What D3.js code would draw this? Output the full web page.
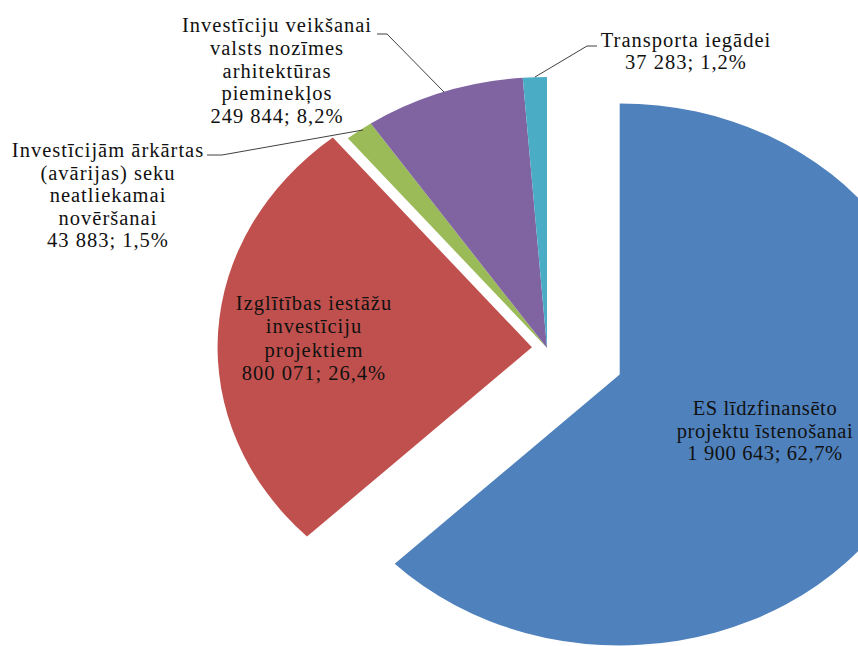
<!DOCTYPE html>
<html>
<head>
<meta charset="utf-8">
<script src="https://d3js.org/d3.v7.min.js"></script>
<style>
  body { margin: 0; background: #fff; }
  svg { display: block; }
</style>
</head>
<body>
<div id="chart"></div>
<script>
    // slice data, clockwise from 12 o'clock
    var categories = [
        "ES līdzfinansēto projektu īstenošanai",
        "Izglītības iestāžu investīciju projektiem",
        "Investīcijām ārkārtas (avārijas) seku neatliekamai novēršanai",
        "Investīciju veikšanai valsts nozīmes arhitektūras pieminekļos",
        "Transporta iegādei"
    ]
    var values = [1900643, 800071, 43883, 249844, 37283]
    var valueLabels = ["1 900 643", "800 071", "43 883", "249 844", "37 283"]
    var percentLabels = ["62,7%", "26,4%", "1,5%", "8,2%", "1,2%"]
    // how the category text is wrapped in the chart
    var labelLines = [
        ["ES līdzfinansēto", "projektu īstenošanai"],
        ["Izglītības iestāžu", "investīciju", "projektiem"],
        ["Investīcijām ārkārtas", "(avārijas) seku", "neatliekamai", "novēršanai"],
        ["Investīciju veikšanai", "valsts nozīmes", "arhitektūras", "pieminekļos"],
        ["Transporta iegādei"]
    ]
    var colors = ["#4F81BD", "#C0504D", "#9BBB59", "#8064A2", "#4BACC6"]

    var W = 858, H = 646
    var cx = 547, cy = 348, R = 271, stretchX = 1.16
    var explode = [68, 13, 0, 0, 0]

    // label anchor (centre x, first baseline y), spacing, and leader lines
    var labelPos = [
        {x: 765, y: 415, ls: 0.6, lh: 22.5},
        {x: 314, y: 310, ls: 1, lh: 23.3},
        {x: 108, y: 157, ls: 1, lh: 22.6},
        {x: 277, y: 32, ls: 1, lh: 22.8},
        {x: 686, y: 47, ls: 1, lh: 21.5}
    ]
    var leaders = [
        null, null,
        [[207, 155], [222, 155], [363, 130]],
        [[377, 34], [387, 34], [444, 92]],
        [[597, 46], [587, 46], [535, 77]]
    ]

    var svg = d3.select("#chart")
        .append("svg")
        .attr("width", W)
        .attr("height", H)

    var pie = d3.pie().sort(null).value(function(d){ return d })
    var arcs = pie(values)
    var arc = d3.arc().innerRadius(0).outerRadius(R)

    var g = svg.append("g")
        .attr("transform", "translate(" + cx + "," + cy + ") scale(" + stretchX + ",1)")

    g.selectAll("path")
        .data(arcs)
        .enter()
        .append("path")
        .attr("d", arc)
        .attr("fill", function(d, i){ return colors[i] })
        .attr("transform", function(d, i){
            var a = (d.startAngle + d.endAngle) / 2
            return "translate(" + (Math.sin(a) * explode[i]) + "," + (-Math.cos(a) * explode[i]) + ")"
        })

    // leader lines
    leaders.forEach(function(pts){
        if (!pts) return
        svg.append("path")
            .attr("d", d3.line()(pts))
            .attr("fill", "none")
            .attr("stroke", "#404040")
            .attr("stroke-width", 1)
    })

    // labels
    labelLines.forEach(function(lines, i){
        var p = labelPos[i]
        var all = lines.concat([valueLabels[i] + ";\u00a0" + percentLabels[i]])
        var t = svg.append("text")
            .style("font-family", "Liberation Serif")
            .style("font-size", "20.5px")
            .style("letter-spacing", p.ls + "px")
            .attr("text-anchor", "middle")
            .attr("fill", "#111")
        all.forEach(function(s, k){
            t.append("tspan")
                .attr("x", p.x)
                .attr("y", p.y + k * p.lh)
                .text(s)
        })
    })
</script>
</body>
</html>
